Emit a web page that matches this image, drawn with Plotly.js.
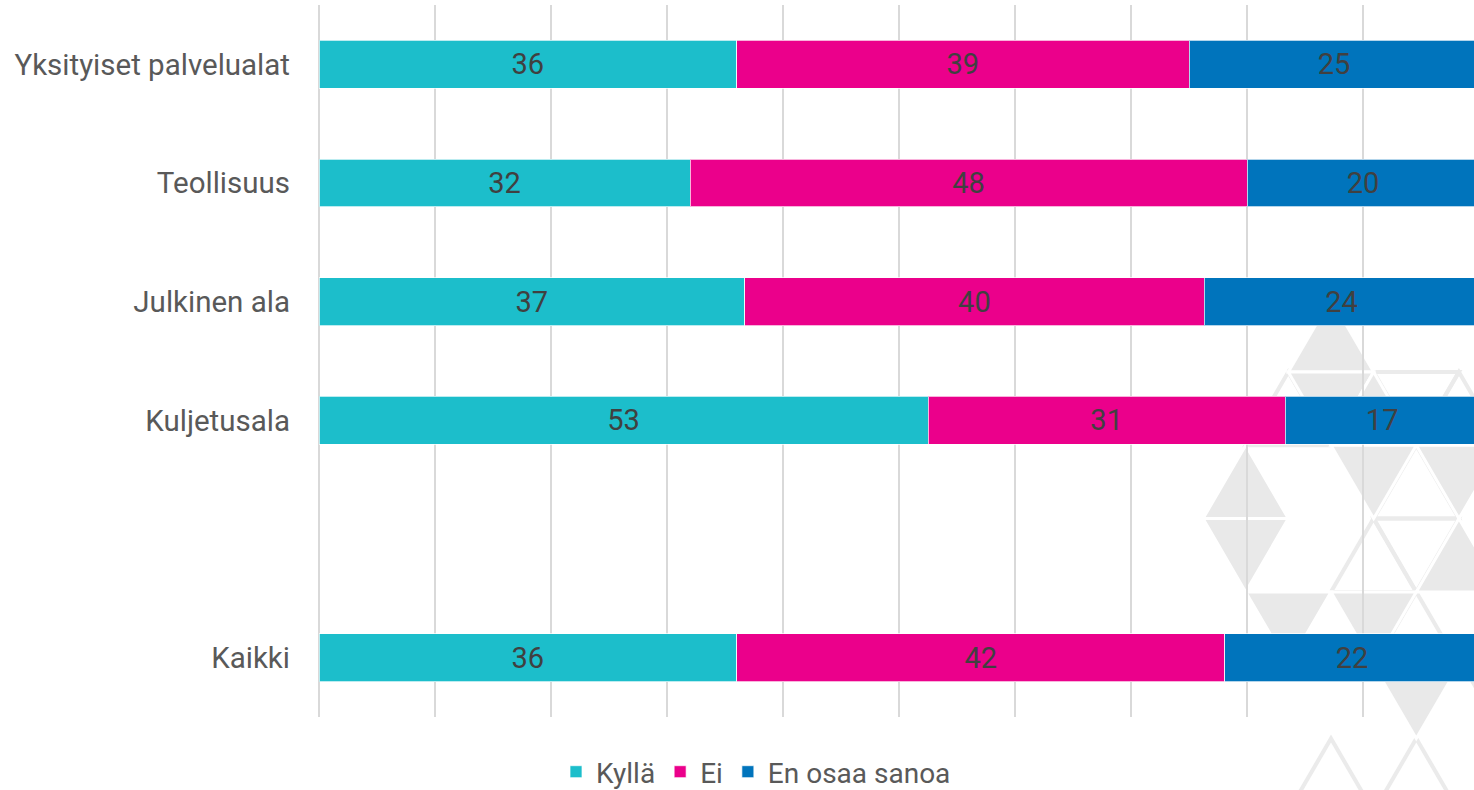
<!DOCTYPE html>
<html>
<head>
<meta charset="utf-8">
<script src="https://cdn.plot.ly/plotly-3.0.1.min.js"></script>
<style>
  html, body { margin: 0; padding: 0; background: #ffffff; }
  #chart { width: 1474px; height: 790px; }
</style>
</head>
<body>
<div id="chart"></div>
<script>
// ---- Data ----
const categories = ["Yksityiset palvelualat", "Teollisuus", "Julkinen ala", "Kuljetusala", " ", "Kaikki"];
const seriesNames = ["Kyllä", "Ei", "En osaa sanoa"];
const kylla = [36.0, 32.0, 36.7, 52.5, null, 36.0];
const ei = [39.0, 48.0, 39.6, 30.8, null, 42.1];
const enOsaaSanoa = [25.0, 20.0, 23.7, 16.7, null, 21.9];
const seriesColors = ["#1CBECB", "#EB008B", "#0074BC"];

// ---- Layout geometry ----
const W = 1474, H = 790;
const M = { l: 319, r: 0, t: 5, b: 73 };
const plotW = W - M.l - M.r;
const plotH = H - M.t - M.b;
const pxPerUnit = 11.6;

// ---- Decorative triangle watermark (background only) ----
const A = 85.3, HT = 73.3, Y0 = 372, XE = 1203, XO = 1245.7;
function lineY(k) { return Y0 + HT * k; }
function lineX(k, j) { return ((((k % 2) + 2) % 2) === 0 ? XE : XO) + A * j; }
function px2x(px) { return (px - M.l) / plotW; }
function px2y(py) { return 1 - (py - M.t) / plotH; }
function triPath(dir, k, j) {
  let pts;
  const x = lineX(k, j), y = lineY(k), y2 = lineY(k + 1);
  if (dir === 'u') pts = [[x, y], [x - A / 2, y2], [x + A / 2, y2]];
  else pts = [[x, y], [x + A, y], [x + A / 2, y2]];
  return 'M' + pts.map(p => px2x(p[0]).toFixed(5) + ',' + px2y(p[1]).toFixed(5)).join('L') + 'Z';
}
const outlineTris = [['u',0,1],['u',0,3],['d',0,2],['u',1,2],['u',2,2],['d',2,2],['u',3,2],['u',5,1],['u',5,2]];
const filledTris = [['u',-1,1],['d',0,1],['u',0,2],['u',1,0],['d',1,1],['d',1,2],['d',2,0],['u',2,3],['d',3,0],['d',3,1],['d',4,2],['d',4,3]];
const shapes = [];
outlineTris.forEach(t => shapes.push({
  type: 'path', xref: 'paper', yref: 'paper', layer: 'below',
  path: triPath(t[0], t[1], t[2]), fillcolor: 'rgba(0,0,0,0)',
  line: { color: '#ebebeb', width: 4 }
}));
filledTris.forEach(t => shapes.push({
  type: 'path', xref: 'paper', yref: 'paper', layer: 'below',
  path: triPath(t[0], t[1], t[2]), fillcolor: '#e9e9e9',
  line: { color: '#ffffff', width: 3 }
}));

// ---- Traces ----
const seriesValues = [kylla, ei, enOsaaSanoa];
const traces = seriesValues.map((vals, i) => ({
  type: 'bar',
  orientation: 'h',
  name: seriesNames[i],
  x: vals,
  y: categories,
  marker: { color: seriesColors[i], line: { color: 'rgba(255,255,255,0.7)', width: 1 } },
  texttemplate: '%{x:.0f}',
  textposition: 'inside',
  insidetextanchor: 'middle',
  textangle: 0,
  constraintext: 'none',
  insidetextfont: { family: 'Roboto, sans-serif', size: 29, color: '#404040' },
  hoverinfo: 'skip'
}));

const layout = {
  width: W, height: H,
  margin: M,
  barmode: 'stack',
  bargap: 0.596,
  paper_bgcolor: '#ffffff',
  plot_bgcolor: 'rgba(0,0,0,0)',
  font: { family: 'Roboto, sans-serif', color: '#595959' },
  showlegend: true,
  legend: {
    orientation: 'h',
    xref: 'container', yref: 'container',
    x: 756 / W, xanchor: 'center',
    y: 1 - 772 / H, yanchor: 'middle',
    font: { family: 'Roboto, sans-serif', size: 28, color: '#595959' },
    traceorder: 'normal',
    itemclick: false, itemdoubleclick: false
  },
  xaxis: {
    range: [0, plotW / pxPerUnit],
    tick0: 0, dtick: 10,
    showgrid: true, gridcolor: '#d9d9d9', gridwidth: 2,
    zeroline: true, zerolinecolor: '#d9d9d9', zerolinewidth: 2,
    showline: false,
    showticklabels: false, ticks: '',
    automargin: false,
    fixedrange: true
  },
  yaxis: {
    type: 'category',
    categoryorder: 'array',
    categoryarray: categories,
    autorange: 'reversed',
    showgrid: false, zeroline: false, showline: false,
    ticks: '',
    ticklabelstandoff: 28,
    automargin: false,
    tickfont: { family: 'Roboto, sans-serif', size: 29.5, color: '#595959' },
    fixedrange: true
  },
  shapes: shapes
};

Plotly.newPlot('chart', traces, layout, { displayModeBar: false, staticPlot: true });
</script>
</body>
</html>
